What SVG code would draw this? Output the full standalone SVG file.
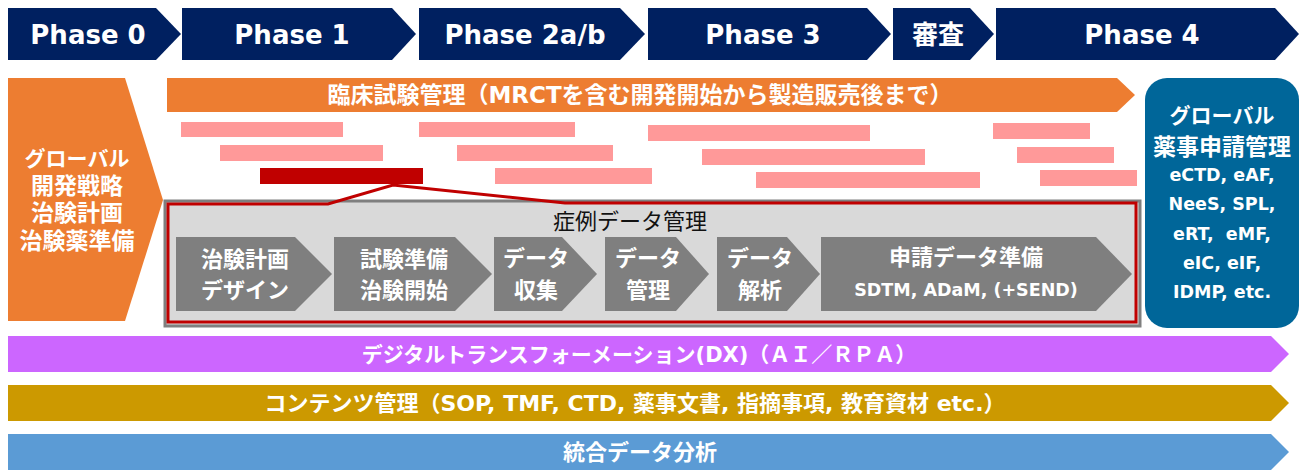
<svg xmlns="http://www.w3.org/2000/svg" width="1306" height="471" viewBox="0 0 1306 471">
<defs>
<style>
.hdr{fill:#002060}
.ht{fill:#fff;font-family:"DejaVu Sans","Noto Sans CJK JP",sans-serif;font-weight:bold;font-size:26px;text-anchor:middle}
.wt{fill:#fff;font-family:"DejaVu Sans","Noto Sans CJK JP",sans-serif;font-weight:bold;text-anchor:middle}
.pink{fill:#FF9999}
.proc{fill:#7F7F7F}
</style>
</defs>
<rect width="1306" height="471" fill="#fff"/>
<g id="header">
<g id="phase0"><polygon class="hdr" points="8,8 156,8 181,34 156,60 8,60"/><text class="ht" x="88" y="44">Phase 0</text></g>
<g id="phase1"><polygon class="hdr" points="182,8 392,8 416,34 392,60 182,60"/><text class="ht" x="292" y="44">Phase 1</text></g>
<g id="phase2"><polygon class="hdr" points="419,8 620,8 645,34 620,60 419,60"/><text class="ht" x="525" y="44">Phase 2a/b</text></g>
<g id="phase3"><polygon class="hdr" points="648,8 867,8 891,34 867,60 648,60"/><text class="ht" x="763" y="44">Phase 3</text></g>
<g id="review"><polygon class="hdr" points="893,8 970,8 994,34 970,60 893,60"/><text class="ht" x="938" y="44">審査</text></g>
<g id="phase4"><polygon class="hdr" points="996,8 1275,8 1299,34 1275,60 996,60"/><text class="ht" x="1142" y="44">Phase 4</text></g>
</g>
<g id="global-dev">
<polygon fill="#ED7D31" points="8,78 125,78 163,200 125,321 8,321"/>
<text class="wt" font-size="21" x="77" y="166">グローバル</text>
<text class="wt" font-size="23" x="77" y="194">開発戦略</text>
<text class="wt" font-size="23" x="77" y="221">治験計画</text>
<text class="wt" font-size="23" x="77" y="249">治験薬準備</text>
</g>
<g id="clinical-trial-mgmt">
<polygon fill="#ED7D31" points="167,78 1117,78 1135,95 1117,112 167,112"/>
<text class="wt" font-size="23" x="640" y="103">臨床試験管理（MRCTを含む開発開始から製造販売後まで）</text>
</g>
<g id="trial-bars">
<rect class="pink" x="181" y="122" width="162" height="15"/>
<rect class="pink" x="220" y="145" width="163" height="16"/>
<rect fill="#C00000" x="260" y="168" width="163" height="16"/>
<rect class="pink" x="419" y="122" width="156" height="15"/>
<rect class="pink" x="457" y="145" width="156" height="16"/>
<rect class="pink" x="495" y="168" width="157" height="16"/>
<rect class="pink" x="648" y="125" width="222" height="16"/>
<rect class="pink" x="702" y="149" width="223" height="16"/>
<rect class="pink" x="756" y="172" width="224" height="16"/>
<rect class="pink" x="993" y="123" width="97" height="16"/>
<rect class="pink" x="1017" y="147" width="97" height="16"/>
<rect class="pink" x="1040" y="170" width="97" height="16"/>
</g>
<g id="case-data-mgmt">
<rect x="165" y="201" width="975" height="125" fill="#D9D9D9" stroke="#7F7F7F" stroke-width="3"/>
<text x="630" y="229" font-family="Noto Sans CJK JP, sans-serif" font-size="22" fill="#111" text-anchor="middle">症例データ管理</text>
</g>
<g id="connectors">
<path d="M168,204 H328 L393,185 L565,203 H1136 V322 H168 Z" fill="none" stroke="#C00000" stroke-width="3"/>
</g>
<g id="step1"><polygon class="proc" points="176,237 295,237 332,274 295,311 176,311"/>
<text class="wt" font-size="22" x="245" y="267">治験計画</text><text class="wt" font-size="22" x="245" y="298">デザイン</text></g>
<g id="step2"><polygon class="proc" points="334,237 455,237 492,274 455,311 334,311"/>
<text class="wt" font-size="22" x="404" y="267">試験準備</text><text class="wt" font-size="22" x="404" y="298">治験開始</text></g>
<g id="step3"><polygon class="proc" points="494,237 562,237 597,274 562,311 494,311"/>
<text class="wt" font-size="22" x="536" y="266">データ</text><text class="wt" font-size="22" x="536" y="298">収集</text></g>
<g id="step4"><polygon class="proc" points="605,237 676,237 709,274 676,311 605,311"/>
<text class="wt" font-size="22" x="648" y="266">データ</text><text class="wt" font-size="22" x="648" y="298">管理</text></g>
<g id="step5"><polygon class="proc" points="717,237 787,237 820,274 787,311 717,311"/>
<text class="wt" font-size="22" x="760" y="266">データ</text><text class="wt" font-size="22" x="760" y="298">解析</text></g>
<g id="step6"><polygon class="proc" points="821,237 1096,237 1132,274 1096,311 821,311"/>
<text class="wt" font-size="22" x="966" y="265">申請データ準備</text><text class="wt" font-size="17.5" x="966" y="296">SDTM, ADaM, (+SEND)</text></g>
<g id="global-regulatory">
<rect x="1145" y="78" width="154" height="250" rx="22" fill="#006699"/>
<text class="wt" font-size="21" x="1222" y="123">グローバル</text>
<text class="wt" font-size="23" x="1222" y="155">薬事申請管理</text>
<text class="wt" font-size="17.5" x="1222" y="181">eCTD, eAF,</text>
<text class="wt" font-size="17.5" x="1222" y="210">NeeS, SPL,</text>
<text class="wt" font-size="17.5" x="1222" y="240" xml:space="preserve">eRT,  eMF,</text>
<text class="wt" font-size="17.5" x="1222" y="269">eIC, eIF,</text>
<text class="wt" font-size="17.5" x="1222" y="298">IDMP, etc.</text>
</g>
<g id="dx">
<polygon fill="#CC66FF" points="8,336 1271,336 1289,354 1271,372 8,372"/>
<text class="wt" font-size="21" x="639" y="362">デジタルトランスフォーメーション(DX)（ＡＩ／ＲＰＡ）</text>
</g>
<g id="contents">
<polygon fill="#CC9900" points="8,385 1271,385 1289,403 1271,421 8,421"/>
<text class="wt" font-size="22" x="635" y="411">コンテンツ管理（SOP, TMF, CTD, 薬事文書, 指摘事項, 教育資材 etc.）</text>
</g>
<g id="integrated-data">
<polygon fill="#5B9BD5" points="8,434 1271,434 1289,452 1271,470 8,470"/>
<text class="wt" font-size="22" x="640" y="460">統合データ分析</text>
</g>
</svg>
